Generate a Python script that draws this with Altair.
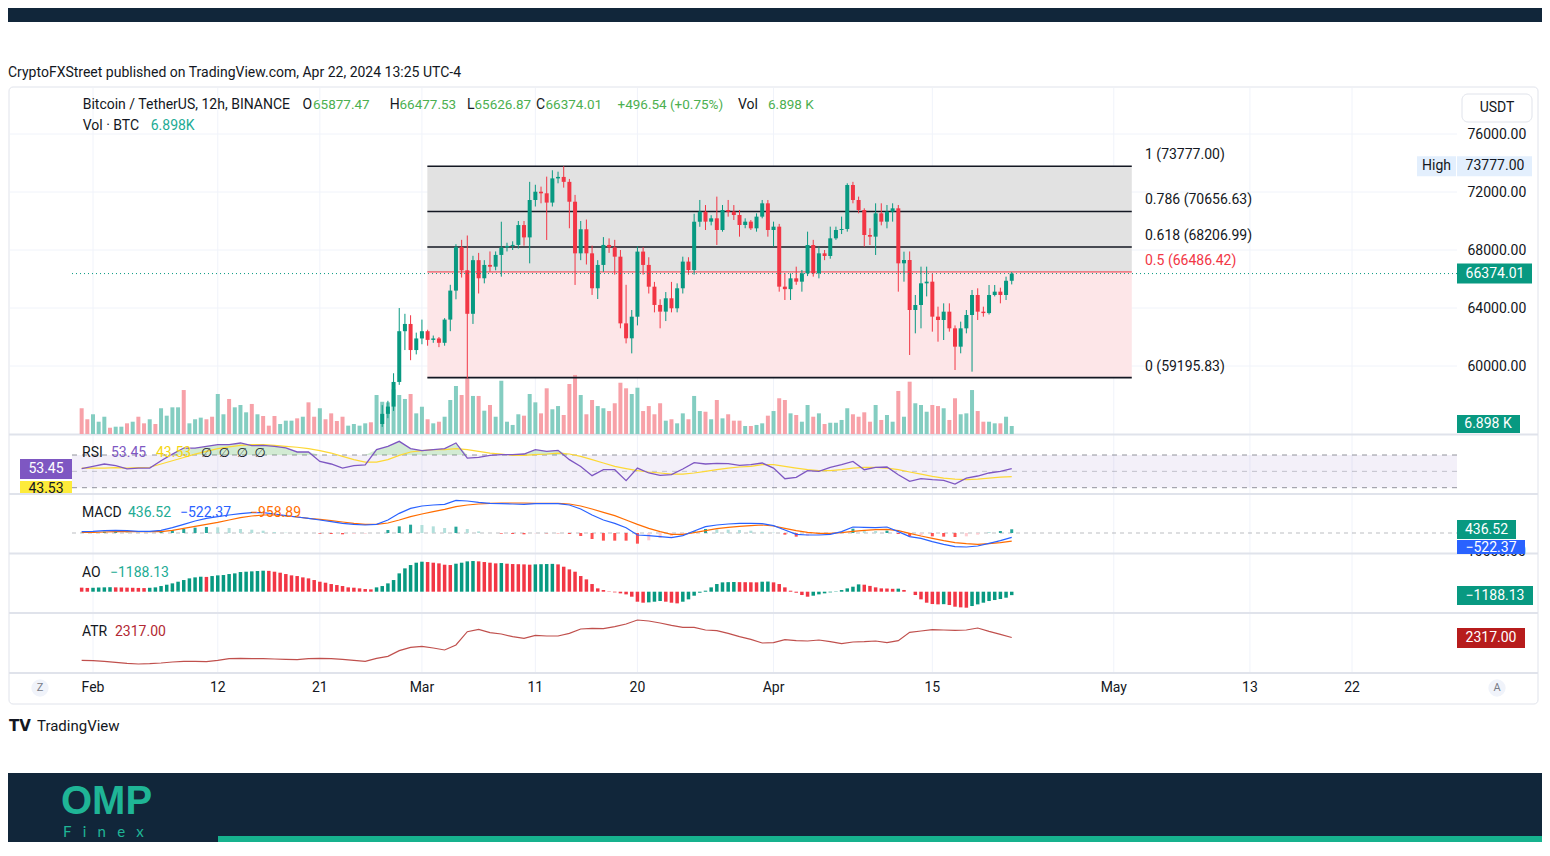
import numpy as np
import pandas as pd
import altair as alt

# ---------------- data ----------------
candle_start = "2024-02-26T12:00:00Z"   # first visible 12h candle
opens = [56000, 56700, 57200, 58900, 62400, 62900, 61100, 61900, 62400, 61800,
         61900, 61600, 63200, 65200, 68200, 66600, 63600, 67300, 66050, 66970,
         66850, 67660, 68180, 68280, 68350, 69720, 68870, 71450, 72020, 71910,
         71270, 72940, 73040, 72700, 71330, 67770, 69430, 67770, 65360, 66970,
         68350, 68180, 67540, 62940, 61910, 63400, 67890, 66970, 65470, 64210,
         63750, 64670, 63980, 65360, 67200, 66620, 69950, 70645, 69955, 70185,
         69380, 70760, 70645, 70415, 69725, 69955, 69495, 70300, 71219, 69380,
         69610, 65472, 65300, 66046, 65816, 66391, 68345, 66391, 67770, 67587,
         68805, 69380, 69450, 72484, 71449, 70760, 69035, 68920, 70530, 69955,
         70645, 70874, 67081, 67311, 63862, 64207, 65702, 65816, 63403, 63173,
         63747, 62598, 61333, 62598, 63517, 64897, 63747, 63650, 64897, 65127,
         64897, 65877.47]
highs = [57300, 57600, 59500, 64000, 63600, 63500, 62300, 63200, 62500, 62100,
         62000, 63300, 65600, 68400, 68700, 69000, 67600, 67800, 67300, 67900,
         67900, 69950, 68500, 68600, 70000, 70000, 72700, 72500, 72370, 73060,
         73500, 73400, 73777, 72900, 71800, 70000, 70100, 68300, 67300, 68890,
         68800, 68700, 68000, 65600, 63860, 68250, 68200, 67500, 65800, 64600,
         65100, 65800, 65700, 67540, 67500, 70500, 71450, 71100, 70400, 71680,
         71104, 71450, 71100, 70760, 70185, 70070, 70530, 71449, 71449, 69955,
         69800, 66400, 66391, 66851, 66621, 69265, 68700, 68230, 68000, 69610,
         69610, 70300, 72600, 72700, 71679, 70874, 69500, 71219, 71219, 71104,
         71219, 71104, 67885, 67900, 64897, 66851, 66851, 66391, 64092, 64322,
         64322, 62800, 63058, 63862, 65242, 65357, 64092, 65587, 65587, 65400,
         66161, 66477.53]
lows = [55800, 56400, 56900, 58700, 61100, 60400, 60800, 61500, 61400, 61600,
        61300, 61400, 62400, 64600, 66100, 59150, 62900, 65000, 65700, 66500,
        66600, 66160, 67900, 68000, 68100, 68300, 67080, 71000, 71220, 68690,
        71000, 72600, 72300, 69500, 65590, 67300, 67000, 64900, 64620, 66500,
        67800, 66300, 62600, 61560, 60870, 62800, 66300, 65000, 63700, 62600,
        63100, 63700, 63700, 65000, 66300, 66300, 69600, 69380, 69700, 68345,
        69265, 70300, 70070, 68920, 69500, 69380, 69265, 70185, 68920, 68230,
        65127, 64552, 64552, 65600, 65127, 66200, 66161, 66046, 67300, 67400,
        68700, 69100, 69265, 71219, 70530, 68230, 68345, 67656, 69700, 69495,
        69955, 65127, 65816, 60759, 62253, 62598, 64800, 62368, 61678, 61793,
        62368, 59724, 60874, 62253, 59609, 63173, 63403, 63550, 64800, 64322,
        64552, 65626.87]
closes = [56700, 57200, 58900, 62400, 62900, 61100, 61900, 62400, 61800, 61900,
          61600, 63200, 65200, 68200, 66600, 63600, 67300, 66050, 66970, 66850,
          67660, 68180, 68280, 68350, 69720, 68870, 71450, 72020, 71910, 71270,
          72940, 73040, 72700, 71330, 67770, 69430, 67770, 65360, 66970, 68350,
          68180, 67540, 62940, 61910, 63400, 67890, 66970, 65470, 64210, 63750,
          64670, 63980, 65360, 67200, 66620, 69950, 70645, 69955, 70185, 69380,
          70760, 70645, 70415, 69725, 69955, 69495, 70300, 71219, 69380, 69610,
          65472, 65300, 66046, 65816, 66391, 68345, 66391, 67770, 67587, 68805,
          69380, 69450, 72484, 71449, 70760, 69035, 68920, 70530, 69955, 70645,
          70874, 67081, 67311, 63862, 64207, 65702, 65816, 63403, 63173, 63747,
          62598, 61333, 62598, 63517, 64897, 63747, 63650, 64897, 65127, 64897,
          65877.47, 66374.01]

bar_start = "2024-01-31T00:00:00Z"      # first 12h volume / AO bar
volumes_k = [22.2, 12.7, 17.0, 10.6, 14.9, 5.4, 6.3, 6.3, 9.2, 10.6,
             14.9, 9.2, 12.7, 8.6, 22.2, 15.8, 23.0, 23.0, 37.9, 9.2,
             12.7, 14.1, 12.7, 14.9, 34.5, 17.0, 30.2, 23.0, 25.0, 18.7,
             25.9, 17.0, 15.5, 7.2, 15.5, 8.6, 11.5, 11.5, 13.5, 14.9,
             27.3, 14.9, 22.2, 12.7, 17.8, 11.2, 14.9, 7.2, 8.6, 7.2,
             9.2, 10.1, 33.6,
             27.8, 27.3, 38.5, 33.6, 30.2, 34.5,
             17.8, 23.5, 12.7, 9.2, 10.6, 14.9, 29.3, 41.4, 33.6, 48.0,
             32.8, 32.8, 20.1, 25.0, 14.9, 45.9, 10.6, 7.8, 17.0, 15.8,
             34.5, 27.3, 17.8, 39.4, 21.3, 24.1, 16.4, 43.1, 50.9, 33.6,
             17.0, 29.3, 24.1, 22.2, 19.8, 26.5, 44.2, 39.4, 34.5, 39.9,
             19.8, 24.1, 17.0, 26.5, 11.5, 12.7, 9.2, 17.8, 12.7, 32.8, 19.8,
             19.2, 12.7, 29.3, 13.5, 17.0, 11.5, 11.5, 6.9, 6.9, 7.8,
             9.2, 15.8, 19.8, 30.8, 29.3, 17.8, 16.4, 10.6, 25.0, 14.9,
             17.8, 8.6, 9.7, 9.7, 12.1, 22.2, 17.0, 14.9, 18.7, 10.6,
             25.0, 12.1, 16.4, 10.6, 37.1, 14.9, 45.1, 26.5, 25.0, 19.2,
             25.0, 24.1, 22.2, 12.1, 30.8, 17.0, 17.8, 37.9, 19.8, 10.6,
             10.6, 9.2, 9.2, 14.9, 6.898]
# up / down colour of the volume bars that have no visible candle (Feb)
volume_dir_early = list("dduuuduudu" "dduduuuudu" "uudduuduuu" "duddduuudu" "ddudddduuu" "udu")
ao_values = [1400, 1300, 1350, 1450, 1500, 1550, 1500, 1450, 1400, 1350, 1300, 1250, 1350,
             1495, 1955, 2415, 2875, 3450, 4025, 4600, 4945, 5175, 5100, 5400, 5635, 5750, 6095,
             6325, 6785, 6900, 7015, 7130, 7245,
             7190, 6900, 6555, 6095, 5635, 5405, 4945, 4600, 4025, 3450, 3105, 2645, 2300, 1955,
             1495, 1380, 1150, 920, 805,
             1495, 1955, 2875, 4025, 6325, 8050, 9200, 10005, 10350,
             10235, 10005, 9775, 9315, 9200, 9660, 10005, 10465, 10580, 10465, 10235, 10005, 9775,
             9890, 9660, 9545, 9490, 9430, 9315, 9430, 9490, 9545, 9600,
             9430, 8625, 7705, 6900, 5405, 4255, 2645, 1150, 575, 115, -230, -575, -920, -1725,
             -3450, -3795, -3680, -3450, -3220, -3450, -3795, -4025, -3450, -2645, -1380, -345,
             345, 1495, 2645, 3220, 3300, 3350, 3300, 3280, 3250, 3230, 3450, 3500, 3220, 2645,
             1495, 345, -345, -1150, -1725, -1380, -920, -575, -230, 115, 575, 1150, 1725, 2530,
             2415, 2000, 1500, 1150, 1100, 1000, 1050, 600, 0, -1150, -2645, -3795, -4255, -4370,
             -4300, -4600, -5175, -5400, -5520, -4945, -4370, -3795, -3220, -2875, -2530, -2070,
             -1188.13]

daily_start = "2024-01-31T00:00:00Z"    # indicator lines, one point per day
rsi_vals = [53.3, 56, 59, 57, 53, 54, 54, 63, 71, 78.5,
            78.5, 80.6, 82.7, 82.7, 84.7, 81.4, 81.8, 80.6, 78.6, 73.7,
            73.7, 62.2, 59, 54, 57, 58, 76.5, 80.6, 86.7, 77.8,
            75.3, 76.5, 77.8, 84.7, 66.3, 67.1, 69.6, 70.4, 70.4, 71.2,
            76.5, 74.5, 75.7, 64.3, 56, 44.7, 52, 52, 38.6, 54,
            48, 45, 46, 52.9, 60.6, 59, 59.8, 59.4, 57.3, 58.2,
            60.2, 54, 41, 42.7, 50.8, 50, 54.9, 58.2, 62.2, 52,
            54.9, 55.3, 45.9, 37.8, 41, 39.8, 39, 34.5, 41.8, 44.3,
            48, 50, 53.45]
rsi_ma_vals = [54, 54, 54, 54.5, 54, 54.5, 55, 59, 63, 67,
               71, 74.5, 77.8, 80, 81.8, 82.7, 82.7, 81.8, 80.6, 79.5,
               77.8, 75.3, 72.4, 68.4, 64.3, 61.4, 61.4, 64.3, 69.6, 73.7,
               75.3, 76.5, 76.5, 77.8, 76.5, 74.5, 72.4, 71.2, 69.6, 69.6,
               70.4, 71.2, 72.4, 71.2, 68.4, 64.3, 60.2, 56.1, 53.3, 50.8,
               49.2, 48, 46.7, 46.7, 48, 50, 52, 54, 55.3, 56.1,
               58.2, 58.2, 56.1, 54, 52, 50.8, 50.8, 52, 54, 54.9,
               54.9, 54, 52, 49.2, 46.7, 43.9, 41.8, 40.6, 39.8, 40.6,
               41.8, 43, 43.53]
macd_vals = [157, 196, 274, 314, 274, 196, 196, 314, 627, 1019,
             1411, 1725, 1921, 2117, 2274, 2391, 2391, 2234, 2038, 1882,
             1725, 1529, 1333, 1137, 1019, 941, 1019, 1529, 2313, 2901,
             3175, 3293, 3371, 3842, 3763, 3606, 3489, 3450, 3410, 3371,
             3450, 3450, 3450, 3293, 2822, 2117, 1529, 1137, 627, -235,
             -314, -431, -549, -314, 235, 745, 941, 1058, 1137, 1137,
             1098, 862, 353, -157, -235, -235, -157, 157, 706, 666,
             627, 706, 157, -431, -627, -1019, -1333, -1607, -1646, -1529,
             -1215, -902, -522.37]
signal_vals = [78, 78, 118, 157, 157, 157, 157, 157, 314, 549,
               784, 1019, 1254, 1529, 1803, 1999, 2117, 2117, 1999, 1882,
               1725, 1607, 1450, 1294, 1137, 1019, 1019, 1176, 1529, 1921,
               2234, 2509, 2783, 3097, 3293, 3410, 3489, 3528, 3528, 3528,
               3489, 3489, 3489, 3410, 3175, 2822, 2430, 2038, 1529, 1019,
               549, 157, -157, -157, 39, 274, 510, 666, 784, 862,
               941, 823, 549, 274, 78, -39, -39, 39, 196, 314,
               392, 431, 274, -39, -353, -627, -902, -1137, -1254, -1333,
               -1254, -1137, -958.89]
atr_vals = [1175, 1158, 1125, 1075, 1025, 992, 1008, 1042, 1092, 1125,
            1125, 1108, 1175, 1258, 1275, 1258, 1258, 1242, 1225, 1208,
            1258, 1275, 1258, 1225, 1175, 1125, 1275, 1375, 1658, 1825,
            1875, 1792, 1692, 1942, 2608, 2725, 2558, 2492, 2358, 2275,
            2425, 2392, 2392, 2525, 2742, 2775, 2758, 2858, 2992, 3192,
            3142, 3042, 2925, 2825, 2825, 2692, 2658, 2525, 2358, 2225,
            2042, 2058, 2208, 2158, 2142, 2192, 2108, 2008, 2092, 2108,
            2142, 2058, 2158, 2575, 2642, 2708, 2692, 2675, 2692, 2792,
            2625, 2475, 2317]

price_ticks = [60000, 64000, 68000, 72000, 76000]
time_ticks = ["2024-02-01T00:00:00Z", "2024-02-12T00:00:00Z", "2024-02-21T00:00:00Z",
              "2024-03-01T00:00:00Z", "2024-03-11T00:00:00Z", "2024-03-20T00:00:00Z",
              "2024-04-01T00:00:00Z", "2024-04-15T00:00:00Z", "2024-05-01T00:00:00Z",
              "2024-05-13T00:00:00Z", "2024-05-22T00:00:00Z"]
time_tick_labels = ["Feb", "12", "21", "Mar", "11", "20", "Apr", "15", "May", "13", "22"]
fib_ratios = [1, 0.786, 0.618, 0.5, 0]
fib_prices = [73777.00, 70656.63, 68206.99, 66486.42, 59195.83]
fib_span = ["2024-03-01T11:30:00Z", "2024-05-02T14:00:00Z"]
x_domain = ["2024-02-01T00:00:00Z", "2024-05-22T00:00:00Z"]

# ---------------- styling / layout ----------------
W, H = 1534, 834
FONT = "Roboto"
TXT = "#131722"
UP, DN = "#089981", "#f23645"
VUP, VDN = "#84cdc1", "#f7a1a8"
NAVY = "#11263a"
TEAL = "#17b28e"
GRID = "#f0f3fa"
SEP = "#e0e3eb"
ONE = pd.DataFrame({"z": [0]})


def ms(s):
    return int(pd.Timestamp(s).value // 10**6)


def iso(idx):
    return list(idx.strftime("%Y-%m-%dT%H:%M:%SZ"))


X_SCALE = alt.Scale(type="utc", domain=[ms(x_domain[0]), ms(x_domain[1])], range=[80, 1349])
PS = alt.Scale(domain=[60000, 76000], range=[358, 126], nice=False, zero=False)
VS = alt.Scale(domain=[0, 60], range=[426, 356.4], nice=False, zero=False)
RS = alt.Scale(domain=[30, 70], range=[479.7, 447], nice=False, zero=False)
MS = alt.Scale(domain=[-1000, 1000], range=[533.5, 516.5], nice=False, zero=False)
AS = alt.Scale(domain=[-3450, 3450], range=[593.7, 573.7], nice=False, zero=False)
TS = alt.Scale(domain=[2317, 3317], range=[629.5, 609.5], nice=False, zero=False)


def X(f="t"):
    return alt.X(f"{f}:T", scale=X_SCALE, axis=None)


def Y(f, s):
    return alt.Y(f"{f}:Q", scale=s, axis=None)


COL = alt.Color("col:N", scale=None)


def txt(s, x, y, color=TXT, size=14, align="left", baseline="middle", weight="normal", font=FONT):
    return alt.Chart(ONE).mark_text(text=s, align=align, baseline=baseline, color=color,
                                    fontSize=size, fontWeight=weight, font=font).encode(
        x=alt.value(x), y=alt.value(y))


def rect(x1, x2, y1, y2, fill, **kw):
    return alt.Chart(ONE).mark_rect(fill=fill, **kw).encode(
        x=alt.value(x1), x2=alt.value(x2), y=alt.value(y1), y2=alt.value(y2))


def hline(y, x1, x2, color, width=1.0, dash=None, opacity=1.0):
    kw = dict(color=color, strokeWidth=width, opacity=opacity)
    if dash:
        kw["strokeDash"] = dash
    return alt.Chart(ONE).mark_rule(**kw).encode(x=alt.value(x1), x2=alt.value(x2), y=alt.value(y))


# ---------------- frames ----------------
cdf = pd.DataFrame({"t": iso(pd.date_range(candle_start, periods=len(closes), freq="12h")),
                    "o": opens, "h": highs, "l": lows, "c": closes})
cdf["col"] = np.where(cdf["c"] >= cdf["o"], UP, DN)

vdirs = volume_dir_early + ["u" if c >= o else "d" for o, c in zip(opens, closes)]
vdf = pd.DataFrame({"t": iso(pd.date_range(bar_start, periods=len(volumes_k), freq="12h")),
                    "v": volumes_k})
vdf["col"] = [VUP if d == "u" else VDN for d in vdirs[:len(vdf)]]

aarr = np.array(ao_values, dtype=float)
aprev = np.r_[aarr[0] + 1, aarr[:-1]]
adf = pd.DataFrame({"t": iso(pd.date_range(bar_start, periods=len(ao_values), freq="12h")),
                    "a": aarr, "col": np.where(aarr > aprev, UP, DN)})

dts = iso(pd.date_range(daily_start, periods=len(rsi_vals), freq="D"))
ddf = pd.DataFrame({"t": dts, "rsi": rsi_vals, "ma": rsi_ma_vals, "macd": macd_vals,
                    "sig": signal_vals, "atr": atr_vals})
ddf["rmax"] = np.maximum(ddf["rsi"], 70)
hist = ddf["macd"] - ddf["sig"]
hprev = hist.shift(1).fillna(hist.iloc[0])
ddf["hist"] = hist
ddf["hcol"] = np.where(hist >= 0, np.where(hist > hprev, "#26a69a", "#b2dfdb"),
                       np.where(hist > hprev, "#ffcdd2", "#ff5252"))

P_AXIS = alt.Axis(values=price_ticks, orient="right", offset=-(W - 1452), format=".2f", domain=False,
                  ticks=False, grid=False, labelFont=FONT, labelFontSize=14, labelColor=TXT,
                  labelPadding=7, labelFlush=False, labelOverlap=False, title=None, zindex=1)

tick_df = pd.DataFrame({"t": time_ticks, "lab": time_tick_labels})
fib_df = pd.DataFrame({"p": fib_prices, "t1": fib_span[0], "t2": fib_span[1],
                       "lab": [f"{r} ({p:.2f})" for r, p in zip(fib_ratios, fib_prices)],
                       "col": [DN if r == 0.5 else TXT for r in fib_ratios],
                       "w": [1 if r == 0.5 else 1.6 for r in fib_ratios]})
zone_df = pd.DataFrame({"hi": [fib_prices[0], fib_prices[3]], "lo": [fib_prices[3], fib_prices[4]],
                        "t1": fib_span[0], "t2": fib_span[1], "col": ["#e2e2e2", "#fde6e8"]})
last_df = pd.DataFrame({"p": [closes[-1]]})
high_df = pd.DataFrame({"p": [max(highs)]})

L = []
# page frame
L.append(rect(0, W, 0, 14, NAVY))
L.append(rect(1, 1530, 79, 696, "white", fillOpacity=0, stroke=SEP, strokeWidth=1, cornerRadius=4))
L.append(alt.Chart(tick_df).mark_rule(color=GRID, strokeWidth=1).encode(
    x=X("t"), y=alt.value(80), y2=alt.value(664)))
L.append(alt.Chart(tick_df).mark_text(color=TXT, fontSize=14, font=FONT, baseline="middle").encode(
    x=X("t"), y=alt.value(680), text="lab:N"))
L.append(alt.Chart(pd.DataFrame({"p": price_ticks})).mark_rule(color=GRID, strokeWidth=1).encode(
    y=alt.Y("p:Q", scale=PS, axis=P_AXIS), x=alt.value(2), x2=alt.value(1449)))
for yy in [426.5, 486, 545.5, 605, 665]:
    L.append(hline(yy, 1, 1530, SEP, 2))

# fib zones, volume, fib lines, candles
L.append(alt.Chart(zone_df).mark_rect().encode(x=X("t1"), x2=alt.X2("t2"), y=Y("hi", PS),
                                               y2=alt.Y2("lo"), color=COL))
L.append(alt.Chart(vdf).mark_bar(size=4).encode(x=X("t"), y=Y("v", VS), y2=alt.Y2Datum(0), color=COL))
L.append(alt.Chart(fib_df).mark_rule().encode(x=X("t1"), x2=alt.X2("t2"), y=Y("p", PS), color=COL,
                                              strokeWidth=alt.StrokeWidth("w:Q", scale=None)))
L.append(alt.Chart(cdf).mark_rule(strokeWidth=1).encode(x=X("t"), y=Y("l", PS), y2=alt.Y2("h"), color=COL))
L.append(alt.Chart(cdf).mark_bar(size=4).encode(x=X("t"), y=Y("o", PS), y2=alt.Y2("c"), color=COL))
L.append(alt.Chart(last_df).mark_rule(color=UP, strokeDash=[1, 3], strokeWidth=1).encode(
    y=Y("p", PS), x=alt.value(64), x2=alt.value(1449)))
L.append(alt.Chart(fib_df).mark_text(align="left", baseline="bottom", dy=-4, fontSize=14, font=FONT).encode(
    x=alt.value(1137), y=Y("p", PS), text="lab:N", color=COL))

# RSI pane
L.append(alt.Chart(pd.DataFrame({"hi": [70], "lo": [30]})).mark_rect(fill="#7e57c2", opacity=0.09).encode(
    x=alt.value(64), x2=alt.value(1449), y=Y("hi", RS), y2=alt.Y2("lo")))
L.append(alt.Chart(pd.DataFrame({"v": [70, 50, 30], "op": [0.8, 0.4, 0.8]})).mark_rule(
    color="#787b86", strokeDash=[5, 5], strokeWidth=1).encode(
    y=Y("v", RS), x=alt.value(64), x2=alt.value(1449), opacity=alt.Opacity("op:Q", scale=None)))
L.append(alt.Chart(ddf).mark_area(color="#4caf50", opacity=0.25).encode(
    x=X("t"), y=Y("rmax", RS), y2=alt.Y2Datum(70)))
L.append(alt.Chart(ddf).mark_line(color="#fdd835", strokeWidth=1.2).encode(x=X("t"), y=Y("ma", RS)))
L.append(alt.Chart(ddf).mark_line(color="#7e57c2", strokeWidth=1.3).encode(x=X("t"), y=Y("rsi", RS)))

# MACD pane
L.append(hline(525, 64, 1449, "#787b86", 1, [4, 4], 0.5))
L.append(alt.Chart(ddf).mark_bar(size=3).encode(x=X("t"), y=Y("hist", MS), y2=alt.Y2Datum(0),
                                                color=alt.Color("hcol:N", scale=None)))
L.append(alt.Chart(ddf).mark_line(color="#ff6d00", strokeWidth=1.2).encode(x=X("t"), y=Y("sig", MS)))
L.append(alt.Chart(ddf).mark_line(color="#2962ff", strokeWidth=1.2).encode(x=X("t"), y=Y("macd", MS)))

# AO pane
L.append(alt.Chart(adf).mark_bar(size=3.5).encode(x=X("t"), y=Y("a", AS), y2=alt.Y2Datum(0), color=COL))

# ATR pane
L.append(alt.Chart(ddf).mark_line(color="#c0504d", strokeWidth=1.2).encode(x=X("t"), y=Y("atr", TS)))

# legends
L.append(txt("CryptoFXStreet published on TradingView.com, Apr 22, 2024 13:25 UTC-4", 0, 65))
seg1 = [("Bitcoin / TetherUS, 12h, BINANCE", 74.7, TXT, 14), ("O", 294.5, TXT, 14),
        ("65877.47", 305, "#4caf50", 13.5), ("H", 381.8, TXT, 14), ("66477.53", 391.5, "#4caf50", 13.5),
        ("L", 459, TXT, 14), ("65626.87", 466.5, "#4caf50", 13.5), ("C", 528, TXT, 14),
        ("66374.01", 537.5, "#4caf50", 13.5), ("+496.54 (+0.75%)", 609.5, "#4caf50", 13.5),
        ("Vol", 730, TXT, 14), ("6.898 K", 760, "#4caf50", 13.5)]
for s, x, c, fs in seg1:
    L.append(txt(s, x, 97, c, fs))
L.append(txt("Vol · BTC", 74.7, 118))
L.append(txt("6.898K", 142.7, 118, "#22ab94"))
L.append(txt("RSI", 74, 445))
L.append(txt("53.45", 103, 445, "#7e57c2"))
L.append(txt("43.53", 148, 445, "#f5d50f"))
L.append(txt("∅\u2002∅\u2002∅\u2002∅", 193, 445, TXT, 13, font="DejaVu Sans"))
L.append(txt("MACD", 74, 505))
L.append(txt("436.52", 120, 505, "#22ab94"))
L.append(txt("−522.37", 172, 505, "#2962ff"))
L.append(txt("−958.89", 242, 505, "#ff6d00"))
L.append(txt("AO", 74, 565))
L.append(txt("−1188.13", 102, 565, "#22ab94"))
L.append(txt("ATR", 74, 624))
L.append(txt("2317.00", 107, 624, "#b22833"))

# right-hand price labels
L.append(rect(1454, 1524, 86, 114, "white", stroke=SEP, strokeWidth=1, cornerRadius=6))
L.append(txt("USDT", 1489, 100, TXT, 14, "center"))
L.append(alt.Chart(high_df).mark_rect(fill="#e3effd", yOffset=-10, y2Offset=10).encode(
    y=Y("p", PS), y2=alt.Y2("p"), x=alt.value(1409), x2=alt.value(1448)))
L.append(alt.Chart(high_df).mark_rect(fill="#e3effd", yOffset=-10, y2Offset=10).encode(
    y=Y("p", PS), y2=alt.Y2("p"), x=alt.value(1449), x2=alt.value(1524)))
L.append(alt.Chart(high_df).mark_text(text="High", color=TXT, fontSize=14, font=FONT, align="center").encode(
    y=Y("p", PS), x=alt.value(1428.5)))
L.append(alt.Chart(high_df).mark_text(color=TXT, fontSize=14, font=FONT, align="center").encode(
    y=Y("p", PS), x=alt.value(1487), text=alt.Text("p:Q", format=".2f")))
L.append(alt.Chart(last_df).mark_rect(fill=UP, yOffset=-10, y2Offset=10).encode(
    y=Y("p", PS), y2=alt.Y2("p"), x=alt.value(1449), x2=alt.value(1524)))
L.append(alt.Chart(last_df).mark_text(color="white", fontSize=14, font=FONT, align="center").encode(
    y=Y("p", PS), x=alt.value(1487), text=alt.Text("p:Q", format=".2f")))
L.append(rect(1449, 1512, 407, 425, UP))
L.append(txt("6.898 K", 1480, 416, "white", 14, "center"))
L.append(rect(12, 64, 451, 471, "#7e57c2"))
L.append(txt("53.45", 38, 461, "white", 14, "center"))
L.append(rect(12, 64, 473, 485, "#fdeb3b"))
L.append(txt("43.53", 38, 481, TXT, 14, "center"))
L.append(hline(486, 1, 1530, SEP, 2))
L.append(txt("10000.00", 1459, 551, TXT, 14, "left", "bottom"))
L.append(rect(1449, 1508, 512, 531, UP))
L.append(txt("436.52", 1478.5, 521.5, "white", 14, "center"))
L.append(rect(1449, 1517, 532, 546, "#2962ff"))
L.append(txt("−522.37", 1483, 540, "white", 14, "center"))
L.append(rect(1449, 1525, 578, 597, UP))
L.append(txt("−1188.13", 1487, 587.5, "white", 14, "center"))
L.append(rect(1449, 1517, 620, 640, "#b71c1c"))
L.append(txt("2317.00", 1483, 630, "white", 14, "center"))

# axis corner buttons
for x, ch in [(32, "Z"), (1489, "A")]:
    L.append(alt.Chart(ONE).mark_circle(size=300, color=GRID, opacity=1).encode(x=alt.value(x), y=alt.value(680)))
    L.append(txt(ch, x, 680, "#787b86", 11, "center"))

# footer / branding
L.append(txt("TV", 1, 718, TXT, 15, weight="bold", font="DejaVu Sans"))
L.append(txt("TradingView", 29, 718, TXT, 15))
L.append(rect(0, W, 765, H, NAVY))
L.append(rect(210, W, 828, H, TEAL))
L.append(txt("OMP", 53, 806, "#1fb596", 40, baseline="alphabetic", weight="bold", font="Liberation Sans"))
L.append(txt("F\u2003i\u2003n\u2003e\u2003x", 55, 829, "#1fb596", 15, baseline="alphabetic", font="Lato"))

chart = alt.layer(*L).resolve_scale(y="independent").properties(
    width=W, height=H, padding=0, autosize=alt.AutoSizeParams(type="none")
).configure_view(strokeWidth=0)

chart.save("out.html", embed_options={"renderer": "svg", "actions": False})
